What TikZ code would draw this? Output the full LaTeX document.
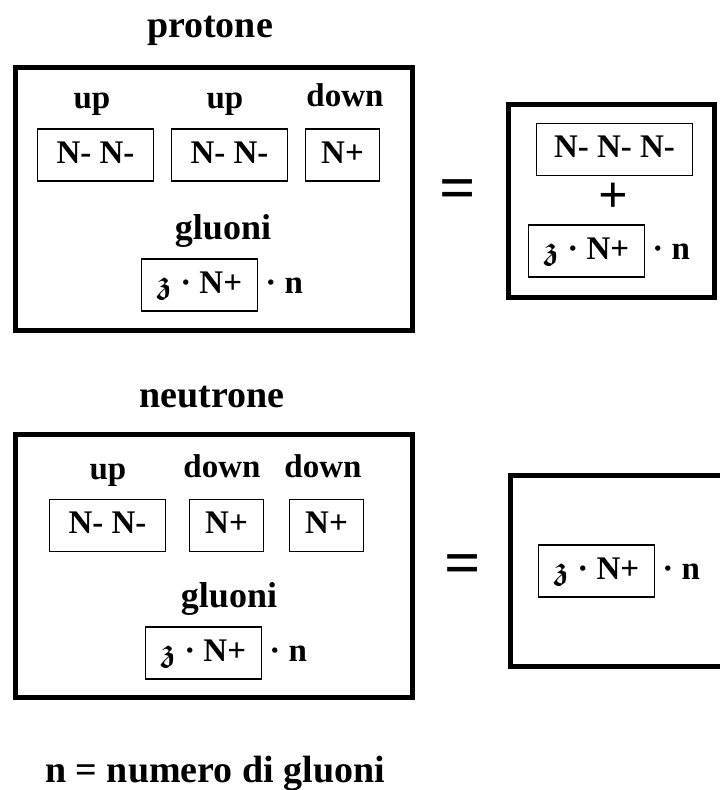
\documentclass[tikz,border=0pt]{standalone}
\usepackage{fontspec}
\setmainfont{Liberation Serif}
\usepackage{amssymb}
\usepackage{bm}
\usetikzlibrary{positioning}

\newcommand{\zgl}{\ensuremath{\bm{\mathfrak{z}}}}

\begin{document}
\begin{tikzpicture}[x=1pt, y=-1pt,
  every node/.style={font=\bfseries\fontsize{33}{40}\selectfont, inner sep=0pt},
  ttl/.style={anchor=base, font=\bfseries\fontsize{38}{46}\selectfont},
  lbl/.style={anchor=base},
  qbox/.style={draw, line width=1.3pt, minimum width=116pt, minimum height=52pt,
               text height=16pt, text depth=0pt},
  tail/.style={text height=16pt, text depth=0pt},
  bigbox/.style={draw, line width=5pt, minimum width=397pt, minimum height=263pt},
  eq/.style={font=\bfseries\fontsize{64}{70}\selectfont}
]
\useasboundingbox (0,0) rectangle (720,790);
\clip (0,0) rectangle (720,790);

\node[ttl] (pt) at (210,37) {protone};
\node[bigbox] (P) at (214,199) {};
\node[lbl] (pu1) at (92,108)  {up};
\node[lbl] (pu2) at (225,108) {up};
\node[lbl] (pd)  at (345,106) {down};
\node[qbox] (pb1) at (95.5,155)  {N- N-};
\node[qbox] (pb2) at (229.5,155) {N- N-};
\node[qbox, minimum width=74pt] (pb3) at (342.5,155) {N+};
\node[ttl, font=\bfseries\fontsize{36}{44}\selectfont] (pgl) at (223,239) {gluoni};
\node[qbox] (pg) at (199.5,285) {\zgl{} · N+};
\node[tail, right=7pt of pg] (pgn) {· n};

\node[eq] (peq) at (458,195) {=};
\node[bigbox, minimum width=206pt, minimum height=193pt] (PR) at (611.5,201) {};
\node[qbox, minimum width=156pt] (prq) at (614.5,149.5) {N- N- N-};
\node[eq, font=\bfseries\fontsize{52}{56}\selectfont] (prp) at (613,198) {+};
\node[qbox] (prg) at (586.5,251) {\zgl{} · N+};
\node[tail, right=7pt of prg] (prn) {· n};

\node[ttl] (nt) at (212,407) {neutrone};
\node[bigbox] (N) at (214,566) {};
\node[lbl] (nu)  at (108,479) {up};
\node[lbl] (nd1) at (222,477) {down};
\node[lbl] (nd2) at (323,477) {down};
\node[qbox] (nb1) at (107.5,525.5) {N- N-};
\node[qbox, minimum width=74pt] (nb2) at (226.5,525.5) {N+};
\node[qbox, minimum width=74pt] (nb3) at (326.5,525.5) {N+};
\node[ttl, font=\bfseries\fontsize{36}{44}\selectfont] (ngl) at (229,607) {gluoni};
\node[qbox] (ng) at (203.5,653) {\zgl{} · N+};
\node[tail, right=7pt of ng] (ngn) {· n};

\node[eq] (neq) at (463,570) {=};
\node[bigbox, minimum width=230pt, minimum height=191pt] (NR) at (625.5,571) {};
\node[qbox] (nrg) at (596.5,571) {\zgl{} · N+};
\node[tail, right=7pt of nrg] (nrn) {· n};

\node[ttl] (leg) at (215,782) {n = numero di gluoni};
\end{tikzpicture}
\end{document}
